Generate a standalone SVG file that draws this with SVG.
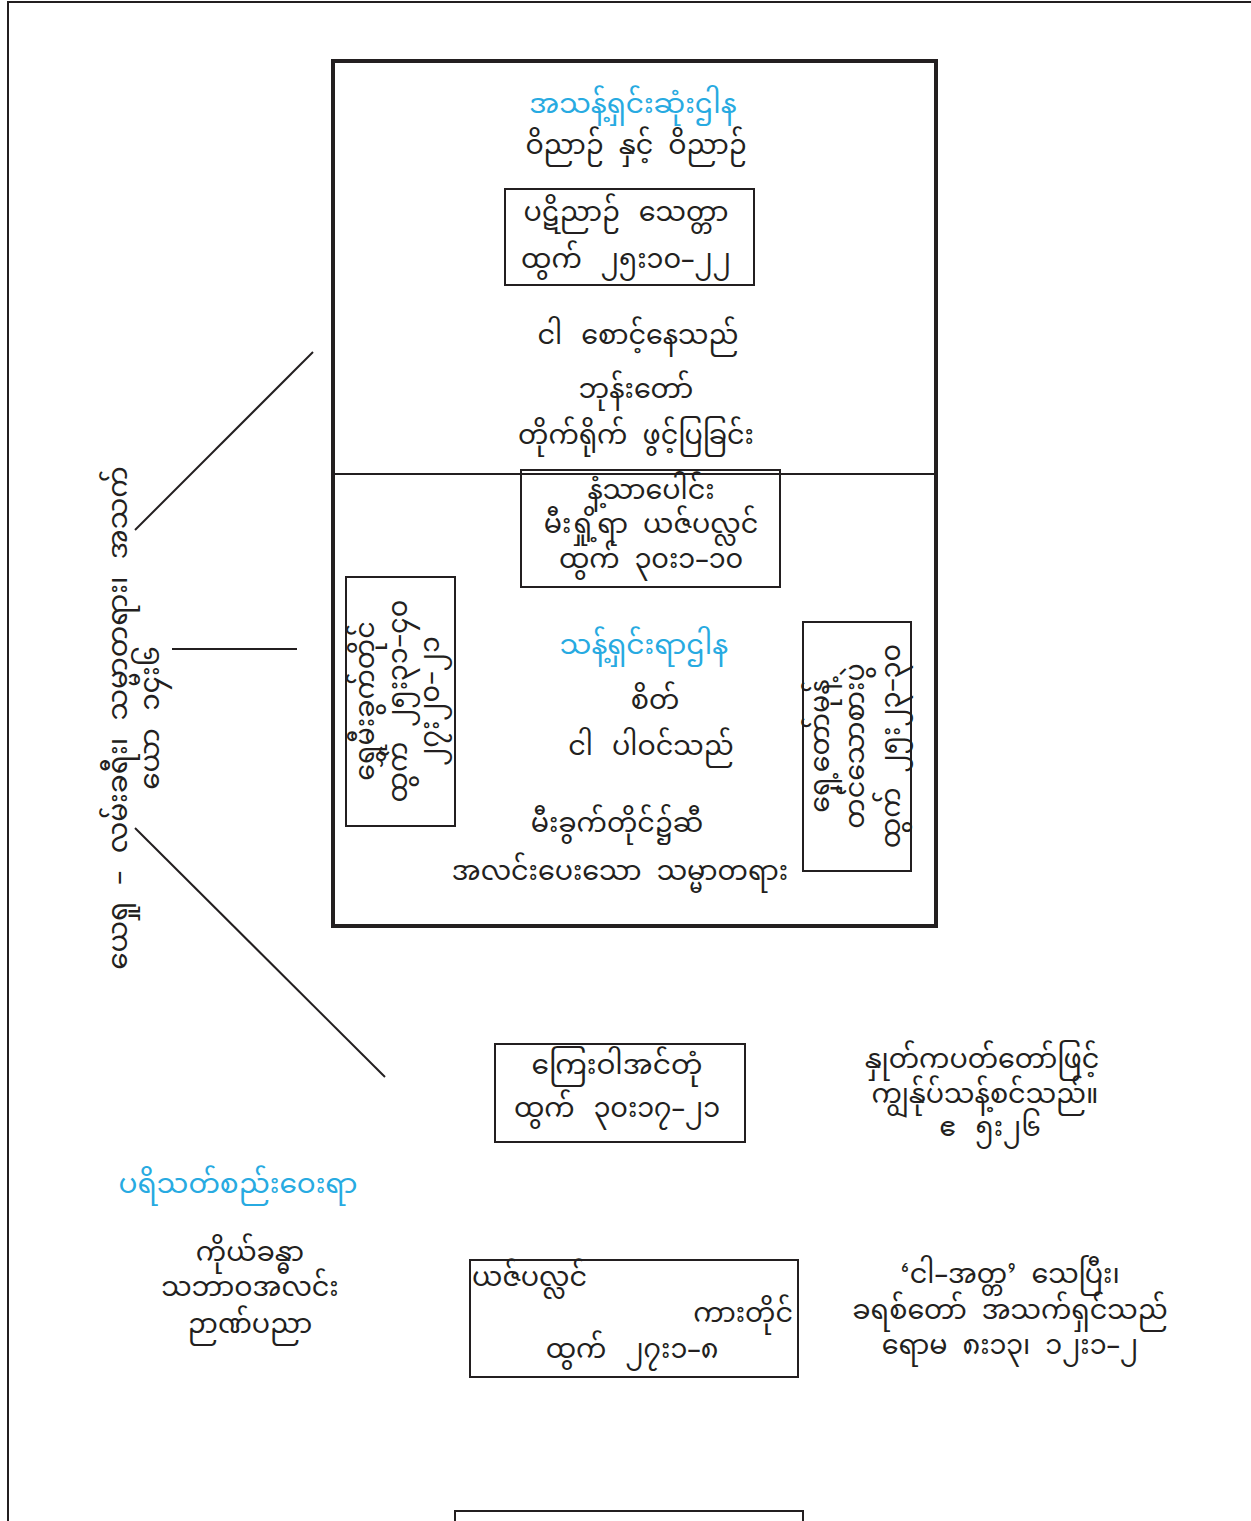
<svg xmlns="http://www.w3.org/2000/svg" width="1251" height="1521" viewBox="0 0 1251 1521">
<style>
text{font-family:"Noto Sans Myanmar","Padauk","Myanmar Text","Noto Sans",sans-serif;font-size:27px;word-spacing:8px;fill:#231f20;text-anchor:middle;dominant-baseline:central}
.b{fill:#27aae1}
.v{font-size:28px;word-spacing:10px}
.box{fill:none;stroke:#231f20;stroke-width:2}
.ln{fill:none;stroke:#231f20;stroke-width:2}
</style>
<rect width="1251" height="1521" fill="#fff"/>
<g id="frame"><path class="ln" d="M8,1521 V2 H1251"/></g>
<g id="main">
<rect x="333" y="61" width="603" height="865" fill="none" stroke="#231f20" stroke-width="4"/>
<line class="ln" x1="333" y1="474" x2="936" y2="474"/>
</g>
<g id="connectors">
<line class="ln" x1="313" y1="352" x2="135" y2="530"/>
<line class="ln" x1="172" y1="649" x2="297" y2="649"/>
<line class="ln" x1="135" y1="828" x2="385" y2="1077"/>
</g>
<g id="most-holy">
<text class="b" x="633" y="106" style="font-size:28px">အသန့်ရှင်းဆုံးဌါန</text>
<text x="636" y="147">ဝိညာဉ် နှင့် ဝိညာဉ်</text>
</g>
<g id="ark">
<rect class="box" x="505" y="189" width="249" height="96"/>
<text x="626" y="214" style="word-spacing:12px">ပဋိညာဉ် သေတ္တာ</text>
<text x="626" y="261" style="word-spacing:12px">ထွက် ၂၅း၁၀–၂၂</text>
</g>
<g id="glory">
<text x="638" y="337" style="word-spacing:12px">ငါ စောင့်နေသည်</text>
<text x="636" y="391">ဘုန်းတော်</text>
<text x="636" y="437">တိုက်ရိုက် ဖွင့်ပြခြင်း</text>
</g>
<g id="incense">
<rect class="box" x="521" y="470" width="259" height="117"/>
<text x="651" y="492">နံ့သာပေါင်း</text>
<text x="651" y="526">မီးရှို့ရာ ယဇ်ပလ္လင်</text>
<text x="651" y="561">ထွက် ၃၀း၁–၁၀</text>
</g>
<g id="holy">
<text class="b" x="644" y="647" style="font-size:28px">သန့်ရှင်းရာဌါန</text>
<text x="655" y="702">စိတ်</text>
<text x="651" y="748" style="word-spacing:12px">ငါ ပါဝင်သည်</text>
<text x="617" y="825">မီးခွက်တိုင်၌ဆီ</text>
<text x="620" y="873">အလင်းပေးသော သမ္မာတရား</text>
</g>
<g id="lampstand">
<rect class="box" x="346" y="577" width="109" height="249"/>
<g transform="translate(400,701) rotate(-90)">
<text x="0" y="-33">ရွှေမီးခွက်တိုင်</text>
<text x="0" y="0">ထွက် ၂၅း၃၁–၄၀</text>
<text x="0" y="32">၂၇း၂၀–၂၁</text>
</g>
</g>
<g id="table">
<rect class="box" x="803" y="622" width="108" height="249"/>
<g transform="translate(857,746) rotate(-90)">
<text x="0" y="-35">ရှေ့တော်မုန့်</text>
<text x="0" y="0">တင်သောစားပွဲ</text>
<text x="0" y="36">ထွက် ၂၅း၂၃–၃၀</text>
</g>
</g>
<g id="jesus">
<g transform="translate(120,718) rotate(-90)">
<text class="v" x="0" y="0">ယေရှု – လမ်းခရီး၊ သမ္မာတရား၊ အသက်</text>
<text class="v" x="0" y="32">ယော ၁၄း၆</text>
</g>
</g>
<g id="laver">
<rect class="box" x="495" y="1044" width="250" height="98"/>
<text x="617" y="1067" style="font-size:28px">ကြေးဝါအင်တုံ</text>
<text x="617" y="1110" style="word-spacing:12px">ထွက် ၃၀း၁၇–၂၁</text>
</g>
<g id="word">
<text x="982" y="1061">နှုတ်ကပတ်တော်ဖြင့်</text>
<text x="985" y="1096">ကျွန်ုပ်သန့်စင်သည်။</text>
<text x="990" y="1129" style="word-spacing:12px">ဧ ၅း၂၆</text>
</g>
<g id="court">
<text class="b" x="238" y="1186" style="font-size:28px">ပရိသတ်စည်းဝေးရာ</text>
<text x="250" y="1254">ကိုယ်ခန္ဓာ</text>
<text x="250" y="1289">သဘာဝအလင်း</text>
<text x="250" y="1326">ဉာဏ်ပညာ</text>
</g>
<g id="altar">
<rect class="box" x="470" y="1260" width="328" height="117"/>
<text x="472" y="1279" style="text-anchor:start">ယဇ်ပလ္လင်</text>
<text x="793" y="1315" style="text-anchor:end">ကားတိုင်</text>
<text x="632" y="1351" style="word-spacing:12px">ထွက် ၂၇း၁–၈</text>
</g>
<g id="self">
<text x="1010" y="1276">‘ငါ–အတ္တ’ သေပြီး၊</text>
<text x="1010" y="1312">ခရစ်တော် အသက်ရှင်သည်</text>
<text x="1010" y="1347">ရောမ ၈း၁၃၊ ၁၂း၁–၂</text>
</g>
<g id="bottom-box">
<path class="ln" d="M455,1521 V1511 H803 V1521"/>
</g>
</svg>
